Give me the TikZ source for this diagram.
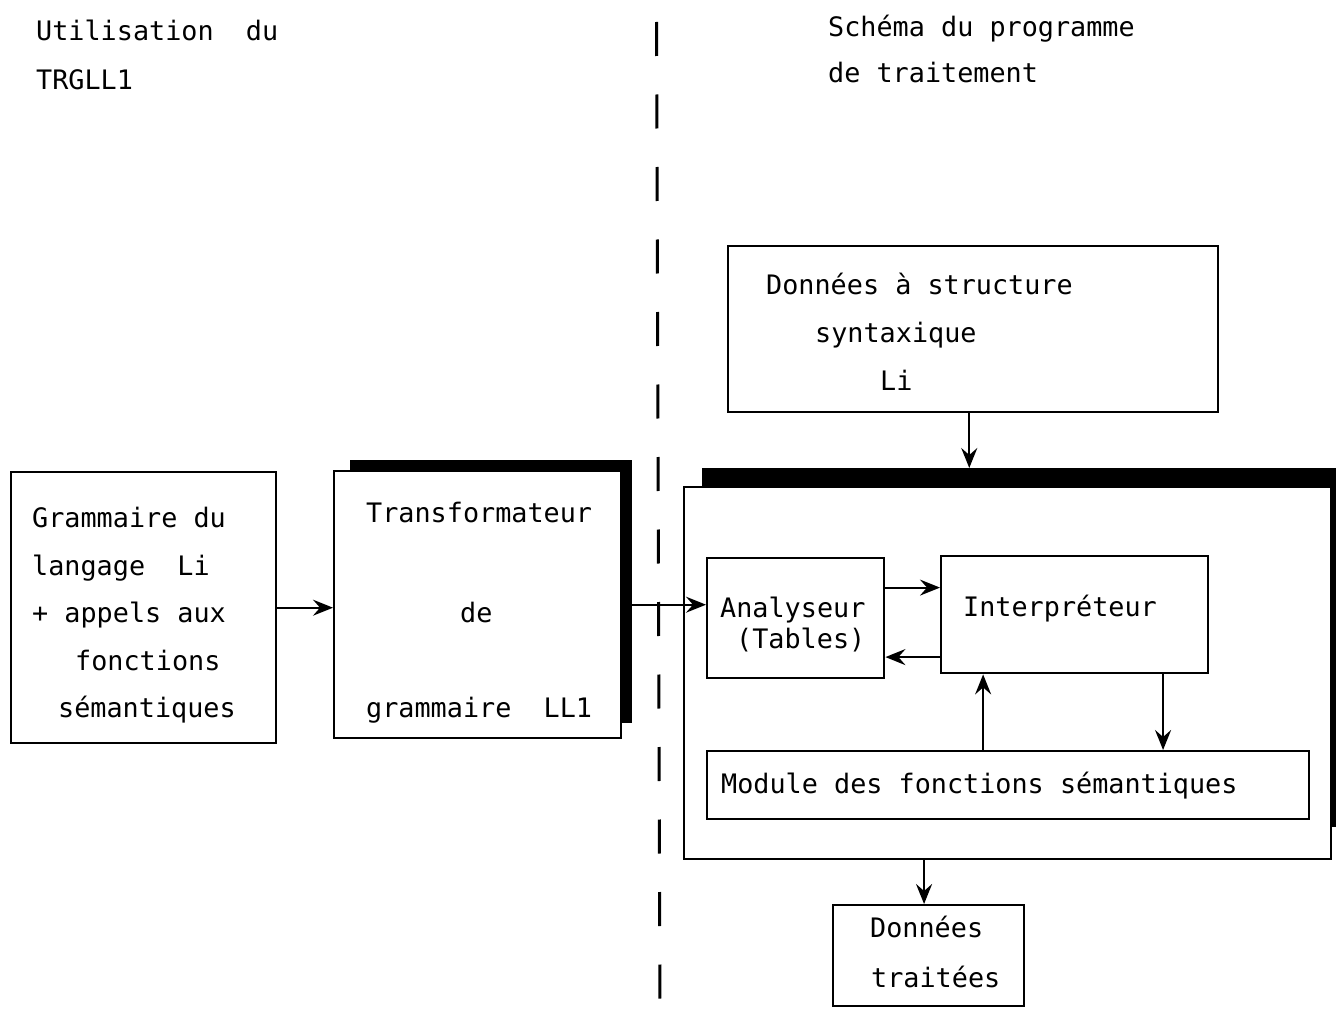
\documentclass[tikz,border=0pt]{standalone}
\usepackage{fontspec}
\setmainfont{DejaVu Sans Mono}
\usetikzlibrary{arrows.meta,calc}
\begin{document}
\begin{tikzpicture}[x=1pt,y=-1pt,
  box/.style={draw, line width=2.4pt, fill=white, inner sep=0pt, anchor=north west},
  shade/.style={fill=black, draw=none, inner sep=0pt, anchor=north west},
  txt/.style={inner sep=0pt, anchor=base west, font=\fontsize{26.8}{32}\selectfont},
  arr/.style={line width=2.2pt, -{Stealth[length=20pt,width=16pt,inset=7pt]}},
  divider/.style={line width=3pt, dash pattern=on 34pt off 38.5pt}]
\useasboundingbox (0,0) rectangle (1336,1030);
\fill[white] (0,0) rectangle (1336,1030);

% divider
\draw[divider] (656.5,22) -- (660,1030);

% boxes
\node[box, minimum width=265pt, minimum height=271pt] (g) at (10,471) {};
\node[shade, minimum width=282pt, minimum height=263pt] (ts) at (350,460) {};
\node[box, minimum width=287pt, minimum height=267pt] (t) at (333,470) {};
\node[box, minimum width=490pt, minimum height=166pt] (d) at (727,245) {};
\node[shade, minimum width=636pt, minimum height=359pt] (bs) at (702,468) {};
\node[box, minimum width=647pt, minimum height=372pt] (bb) at (683,486) {};
\node[box, minimum width=177pt, minimum height=120pt] (a) at (706,557) {};
\node[box, minimum width=267pt, minimum height=117pt] (i) at (940,555) {};
\node[box, minimum width=602pt, minimum height=68pt] (m) at (706,750) {};
\node[box, minimum width=191pt, minimum height=101pt] (dt) at (832,904) {};

% connectors
\draw[arr] (g.east) -- (g.east -| t.west);
\draw[arr] (t.east -| ts.east) -- (t.east -| a.west);
\coordinate (d1) at ($(d.south west)!0.492!(d.south east)$);
\draw[arr] (d1) -- (d1 |- bs.north);
\coordinate (a1) at ($(a.north east)!0.25!(a.south east)$);
\draw[arr] (a1) -- (a1 -| i.west);
\coordinate (i1) at ($(i.north west)!0.855!(i.south west)$);
\draw[arr] (i1) -- (i1 -| a.east);
\coordinate (m1) at ($(m.north west)!0.4585!(m.north east)$);
\draw[arr] (m1) -- (m1 |- i.south);
\coordinate (i2) at ($(i.south west)!0.828!(i.south east)$);
\draw[arr] (i2) -- (i2 |- m.north);
\coordinate (dt1) at ($(dt.north west)!0.476!(dt.north east)$);
\draw[arr] (dt1 |- bb.south) -- (dt1);

% titles
\node[txt] (h1) at (36,41) {Utilisation \ du};
\node[txt] (h2) at (36,90) {TRGLL1};
\node[txt] (h3) at (828,37) {Schéma du programme};
\node[txt] (h4) at (828,83) {de traitement};

% texts
\node[txt] (g1) at (32,527) {Grammaire du};
\node[txt] (g2) at (32,575) {langage \ Li};
\node[txt] (g3) at (32,622) {+ appels aux};
\node[txt] (g4) at (75,670) {fonctions};
\node[txt] (g5) at (58,717) {sémantiques};

\node[txt] (t1) at (366,522) {Transformateur};
\node[txt] (t2) at (460,622) {de};
\node[txt] (t3) at (366,717) {grammaire \ LL1};

\node[txt] (d2) at (766,294) {Données à structure};
\node[txt] (d3) at (815,342) {syntaxique};
\node[txt] (d4) at (880,390) {Li};

\node[txt] (a2) at (720,617) {Analyseur};
\node[txt] (a3) at (736,648) {(Tables)};
\node[txt] (i3) at (963,616) {Interpréteur};
\node[txt] (m2) at (721,793) {Module des fonctions sémantiques};
\node[txt] (dt2) at (870,937) {Données};
\node[txt] (dt3) at (871,987) {traitées};
\end{tikzpicture}
\end{document}
